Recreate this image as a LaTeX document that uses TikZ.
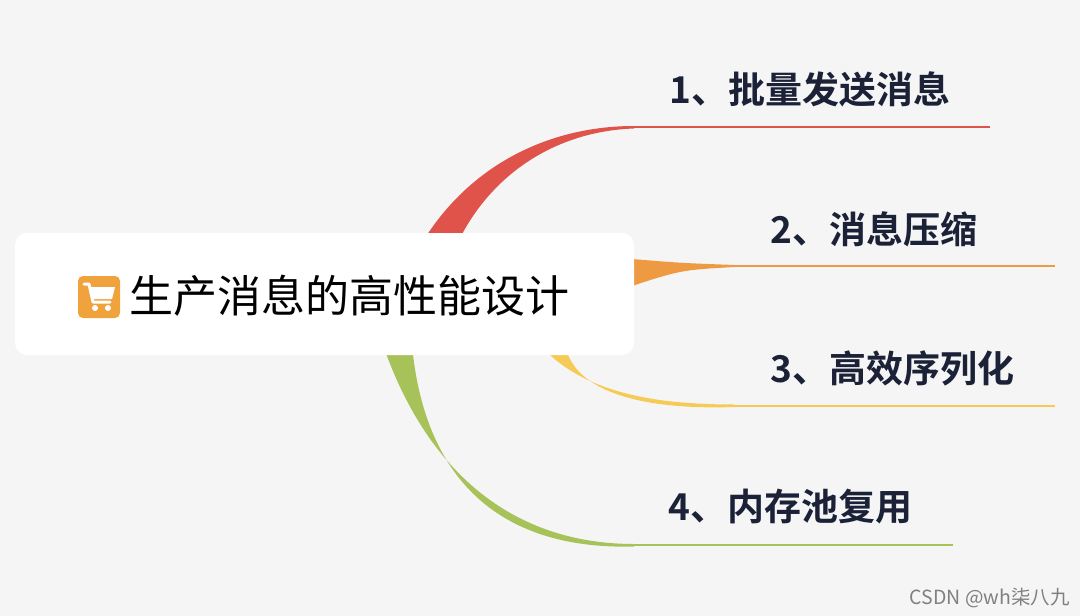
\documentclass[tikz,border=0pt]{standalone}
\usepackage{fontspec}
\setmainfont{Noto Sans CJK SC}
\newfontfamily\cjk{Noto Sans CJK SC}
\newfontfamily\cjkb{Noto Sans CJK SC Bold}
\definecolor{bg}{HTML}{F5F5F5}
\definecolor{navy}{HTML}{1B2238}
\definecolor{cred}{HTML}{E0534A}
\definecolor{corange}{HTML}{EE9A43}
\definecolor{cyellow}{HTML}{F5CB55}
\definecolor{cgreen}{HTML}{A8C25A}
\definecolor{icon}{HTML}{F0A23C}
\tikzset{lbl/.style={anchor=west,inner sep=0,text=navy,font=\cjkb\fontsize{37}{37}\selectfont}}
\begin{document}
\begin{tikzpicture}[x=1pt,y=-1pt]
\useasboundingbox (0,0) rectangle (1080,616);
\fill[bg] (0,0) rectangle (1080,616);
% branches
\fill[cred] (425,238) .. controls (475,160) and (555,126) .. (634,126) -- (634,128.5) .. controls (560,131) and (495,170) .. (460,238) -- cycle;
\draw[cred,line width=2] (634,127) -- (990,127);
\fill[corange] (620,258) .. controls (680,263) .. (735,265) -- (735,267) .. controls (680,270) .. (620,290) -- cycle;
\draw[corange,line width=2] (735,266) -- (1055,266);
\fill[cyellow] (540,345) .. controls (585,395) and (660,404.5) .. (735,404.5) -- (735,407) .. controls (650,410) and (575,395) .. (565,345) -- cycle;
\draw[cyellow,line width=2] (735,406) -- (1055,406);
\fill[cgreen] (383,345) .. controls (430,480) and (520,544) .. (634,544) -- (634,546.5) .. controls (505,550) and (425,485) .. (412,345) -- cycle;
\draw[cgreen,line width=2] (634,545) -- (953,545);
% central node
\node[fill=white,rounded corners=12,minimum width=619,minimum height=122,inner sep=0] (center) at (324.5,294) {};
\node[fill=icon,rounded corners=5,minimum size=42,inner sep=0] (ic) at (99,297) {};
\draw[white,line width=3,line join=round,line cap=round] (84,284) -- (89,284) -- (93,302) -- (110,302);
\fill[white] (90,287) -- (115,287) -- (112,299) -- (92,299) -- cycle;
\fill[white] (95,308) circle (3); \fill[white] (108,308) circle (3);
\node[anchor=west,inner sep=0,text=black,font=\cjk\fontsize{44}{44}\selectfont] (title) at (129,296) {生产消息的高性能设计};
% labels
\node[lbl] (l1) at (669,89) {1、批量发送消息};
\node[lbl] (l2) at (770,229) {2、消息压缩};
\node[lbl] (l3) at (770,368) {3、高效序列化};
\node[lbl] (l4) at (668,507) {4、内存池复用};
\node[anchor=east,inner sep=0,text=gray,font=\cjk\fontsize{19.5}{19.5}\selectfont] (wm) at (1070,598) {CSDN @wh柒八九};
\end{tikzpicture}
\end{document}
